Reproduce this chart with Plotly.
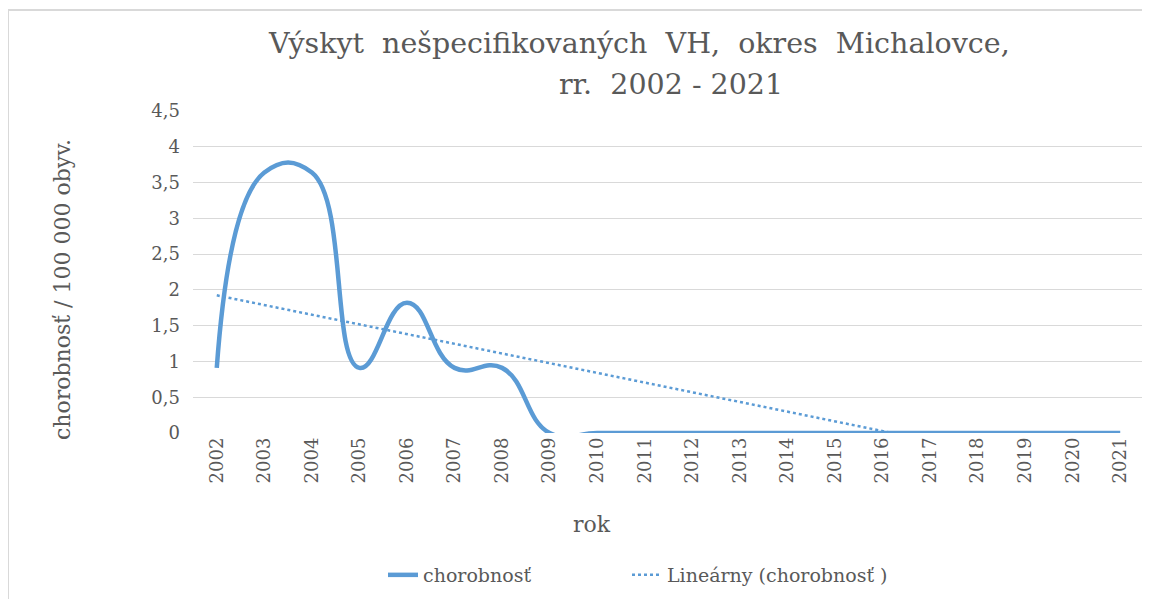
import numpy as np
import plotly.graph_objects as go

years = list(range(2002, 2022))
year_labels = [str(y) for y in years]
values = [0.91, 3.64, 3.64, 0.91, 1.82, 0.91, 0.91, 0, 0, 0, 0, 0, 0, 0, 0, 0, 0, 0, 0, 0]
ytick_vals = [0, 0.5, 1, 1.5, 2, 2.5, 3, 3.5, 4, 4.5]
ytick_text = ["0", "0,5", "1", "1,5", "2", "2,5", "3", "3,5", "4", "4,5"]

# linear trendline (least squares fit on data, as Excel does)
idx = np.arange(1, len(values) + 1)
slope, intercept = np.polyfit(idx, np.array(values), 1)
trend = list(intercept + slope * idx)

BLUE = "#5b9bd5"
GREY = "#595959"
FONT = "DejaVu Serif"

OFF = 8  # browser body margin
W, H = 1150 - OFF, 599 - OFF
L, R, T, B = 193 - OFF, 6, 111 - OFF, 166
PW, PH = W - L - R, H - T - B

def px(x):
    return (x - OFF - L) / PW

def py(y):
    return 1 - (y - OFF - T) / PH

fig = go.Figure()
fig.add_trace(go.Scatter(
    x=years, y=values, mode="lines", name="chorobnosť", legend="legend",
    line=dict(color=BLUE, width=4.5, shape="spline", smoothing=1.3),
))
fig.add_trace(go.Scatter(
    x=years, y=trend, mode="lines", name="Lineárny (chorobnosť )", legend="legend2",
    line=dict(color=BLUE, width=2.5, dash="dot"),
))

fig.update_layout(
    width=W, height=H,
    margin=dict(l=L, r=R, t=T, b=B, autoexpand=False),
    paper_bgcolor="white", plot_bgcolor="white",
    font=dict(family=FONT, color=GREY, size=18),
    showlegend=True,
    legend=dict(orientation="h", x=px(383), xanchor="left", y=py(575), yanchor="middle",
                font=dict(size=19, color=GREY, family=FONT)),
    legend2=dict(orientation="h", x=px(627), xanchor="left", y=py(575), yanchor="middle",
                 font=dict(size=19, color=GREY, family=FONT)),
    xaxis=dict(range=[2001.5, 2021.5], tickmode="array", tickvals=years, ticktext=year_labels,
               tickangle=-90, showgrid=False, zeroline=False, showline=False,
               ticks="", tickfont=dict(size=18, color=GREY, family=FONT), automargin=False),
    yaxis=dict(range=[0, 4.5], tickmode="array", tickvals=ytick_vals, ticktext=ytick_text,
               showgrid=True, gridcolor="#d9d9d9", gridwidth=1, zeroline=False,
               showline=False, ticks="", ticklabelstandoff=12,
               tickfont=dict(size=18, color=GREY, family=FONT), automargin=False),
)

fig.add_annotation(text="rok", xref="paper", yref="paper", x=px(592), y=py(524),
                   xanchor="center", yanchor="middle", showarrow=False,
                   font=dict(size=22, color=GREY, family=FONT))
fig.add_annotation(text="chorobnosť / 100 000 obyv.", xref="paper", yref="paper",
                   x=px(62), y=py(290), textangle=-90,
                   xanchor="center", yanchor="middle", showarrow=False,
                   font=dict(size=22, color=GREY, family=FONT))

fig.add_annotation(text="Výskyt\u00a0 nešpecifikovaných\u00a0 VH,\u00a0 okres\u00a0 Michalovce,",
                   xref="paper", yref="paper", x=px(639), y=py(43),
                   xanchor="center", yanchor="middle", showarrow=False,
                   font=dict(size=28.5, color=GREY, family=FONT))
fig.add_annotation(text="rr.\u00a0 2002 - 2021",
                   xref="paper", yref="paper", x=px(671), y=py(84),
                   xanchor="center", yanchor="middle", showarrow=False,
                   font=dict(size=28.5, color=GREY, family=FONT))

# outer chart border (left and top edges visible in the crop)
fig.add_shape(type="line", xref="paper", yref="paper",
              x0=px(8), x1=px(8), y0=py(10), y1=py(620),
              line=dict(color="#d9d9d9", width=2), layer="below")
fig.add_shape(type="line", xref="paper", yref="paper",
              x0=px(8), x1=px(1170), y0=py(10), y1=py(10),
              line=dict(color="#d9d9d9", width=2), layer="below")

fig.write_html("out.html")
